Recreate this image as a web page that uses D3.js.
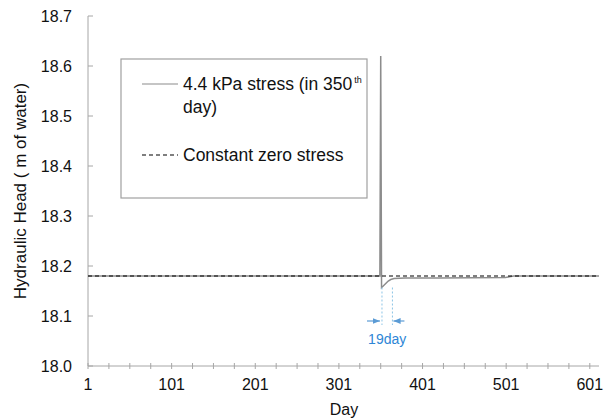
<!DOCTYPE html>
<html>
<head>
<meta charset="utf-8">
<script src="https://cdn.jsdelivr.net/npm/d3@7"></script>
<style>
  body { margin: 0; background: #fff; }
  svg { font-family: "Liberation Sans", Arial, sans-serif; }
</style>
</head>
<body>
<svg width="604" height="420"></svg>
<script>
// Data
const stressDays = [1, 350, 351, 352, 354, 357, 360, 363, 367, 380, 420, 500, 510, 612];
const stressHead = [18.18, 18.18, 18.62, 18.157, 18.160, 18.165, 18.170, 18.173, 18.175, 18.176, 18.176, 18.177, 18.18, 18.18];
const zeroDays = [1, 612];
const zeroHead = [18.18, 18.18];
const xTickLabels = [1, 101, 201, 301, 401, 501, 601];
const yTickLabels = [18.0, 18.1, 18.2, 18.3, 18.4, 18.5, 18.6, 18.7];
const lagDays = [352.5, 365];   // the "19day" marks
const lagText = '19day';

const svg = d3.select('svg');
const axisColor = '#a6a6a6';

const x = d3.scaleLinear().domain([1, 612]).range([88, 599]);
const y = d3.scaleLinear().domain([18.0, 18.7]).range([366, 16]);

// Y axis
svg.append('line')
  .attr('x1', x(1)).attr('x2', x(1))
  .attr('y1', y(18.7)).attr('y2', y(18.0))
  .attr('stroke', axisColor);

yTickLabels.forEach(v => {
  svg.append('line')
    .attr('x1', x(1)).attr('x2', x(1) + 5)
    .attr('y1', y(v)).attr('y2', y(v))
    .attr('stroke', axisColor);
  svg.append('text')
    .attr('x', 72).attr('y', y(v) + 6)
    .attr('text-anchor', 'end')
    .attr('font-size', 16)
    .attr('fill', '#111')
    .text(v.toFixed(1));
});

// X axis
svg.append('line')
  .attr('x1', x(1)).attr('x2', x(612))
  .attr('y1', y(18.0)).attr('y2', y(18.0))
  .attr('stroke', axisColor);

d3.range(1, 602, 25).forEach(d => {
  svg.append('line')
    .attr('x1', x(d)).attr('x2', x(d))
    .attr('y1', y(18.0) - 3).attr('y2', y(18.0) + 3)
    .attr('stroke', axisColor);
});

xTickLabels.forEach(d => {
  svg.append('text')
    .attr('x', x(d)).attr('y', 390)
    .attr('text-anchor', 'middle')
    .attr('font-size', 16)
    .attr('fill', '#111')
    .text(d);
});

// Axis titles
svg.append('text')
  .attr('x', 344).attr('y', 415)
  .attr('text-anchor', 'middle')
  .attr('font-size', 16)
  .attr('fill', '#111')
  .text('Day');

svg.append('text')
  .attr('transform', `translate(26,${(y(18.0) + y(18.7)) / 2}) rotate(-90)`)
  .attr('text-anchor', 'middle')
  .attr('font-size', 17)
  .attr('fill', '#111')
  .text('Hydraulic Head ( m of water)');

// Lines
const line = d3.line().x(d => x(d[0])).y(d => y(d[1]));

svg.append('path')
  .attr('d', line(d3.zip(stressDays, stressHead)))
  .attr('fill', 'none')
  .attr('stroke', '#8c8c8c')
  .attr('stroke-width', 1.5);

svg.append('path')
  .attr('d', line(d3.zip(zeroDays, zeroHead)))
  .attr('fill', 'none')
  .attr('stroke', '#000')
  .attr('stroke-width', 1.2)
  .attr('stroke-dasharray', '4,3');

// 19 day annotation
const blue = '#5b9bd5';
lagDays.forEach(d => {
  svg.append('line')
    .attr('x1', x(d)).attr('x2', x(d))
    .attr('y1', y(18.157)).attr('y2', 325)
    .attr('stroke', '#8cc4e6')
    .attr('stroke-width', 1)
    .attr('stroke-dasharray', '2,2');
});

svg.append('defs').append('marker')
  .attr('id', 'arr')
  .attr('viewBox', '0 0 10 10')
  .attr('refX', 10).attr('refY', 5)
  .attr('markerWidth', 6).attr('markerHeight', 6)
  .attr('orient', 'auto')
  .append('path')
  .attr('d', 'M0,1 L10,5 L0,9 Z')
  .attr('fill', blue);

svg.append('line')
  .attr('x1', x(lagDays[0]) - 15).attr('x2', x(lagDays[0]) - 2)
  .attr('y1', 321).attr('y2', 321)
  .attr('stroke', blue).attr('stroke-width', 1.2)
  .attr('marker-end', 'url(#arr)');

svg.append('line')
  .attr('x1', x(lagDays[1]) + 12).attr('x2', x(lagDays[1]) + 1)
  .attr('y1', 321).attr('y2', 321)
  .attr('stroke', blue).attr('stroke-width', 1.2)
  .attr('marker-end', 'url(#arr)');

svg.append('text')
  .attr('x', (x(lagDays[0]) + x(lagDays[1])) / 2)
  .attr('y', 344)
  .attr('text-anchor', 'middle')
  .attr('font-size', 14)
  .attr('fill', '#2e86d6')
  .text(lagText);

// Legend
svg.append('rect')
  .attr('x', 121).attr('y', 59)
  .attr('width', 246).attr('height', 139)
  .attr('fill', '#fff')
  .attr('stroke', '#a0a0a0')
  .attr('stroke-width', 1.2);

svg.append('line')
  .attr('x1', 142).attr('x2', 178).attr('y1', 84).attr('y2', 84)
  .attr('stroke', '#8c8c8c').attr('stroke-width', 1.2);

const t1 = svg.append('text')
  .attr('x', 183).attr('y', 90)
  .attr('font-size', 17.5)
  .attr('fill', '#111');
t1.append('tspan').text('4.4 kPa stress (in 350');
t1.append('tspan').attr('font-size', 9).attr('dx', 2).attr('dy', -7).text('th');

svg.append('text')
  .attr('x', 183).attr('y', 113)
  .attr('font-size', 17.5)
  .attr('fill', '#111')
  .text('day)');

svg.append('line')
  .attr('x1', 142).attr('x2', 178).attr('y1', 155).attr('y2', 155)
  .attr('stroke', '#000').attr('stroke-width', 1.2)
  .attr('stroke-dasharray', '4,3');

svg.append('text')
  .attr('x', 183).attr('y', 161)
  .attr('font-size', 17.5)
  .attr('fill', '#111')
  .text('Constant zero stress');
</script>
</body>
</html>
